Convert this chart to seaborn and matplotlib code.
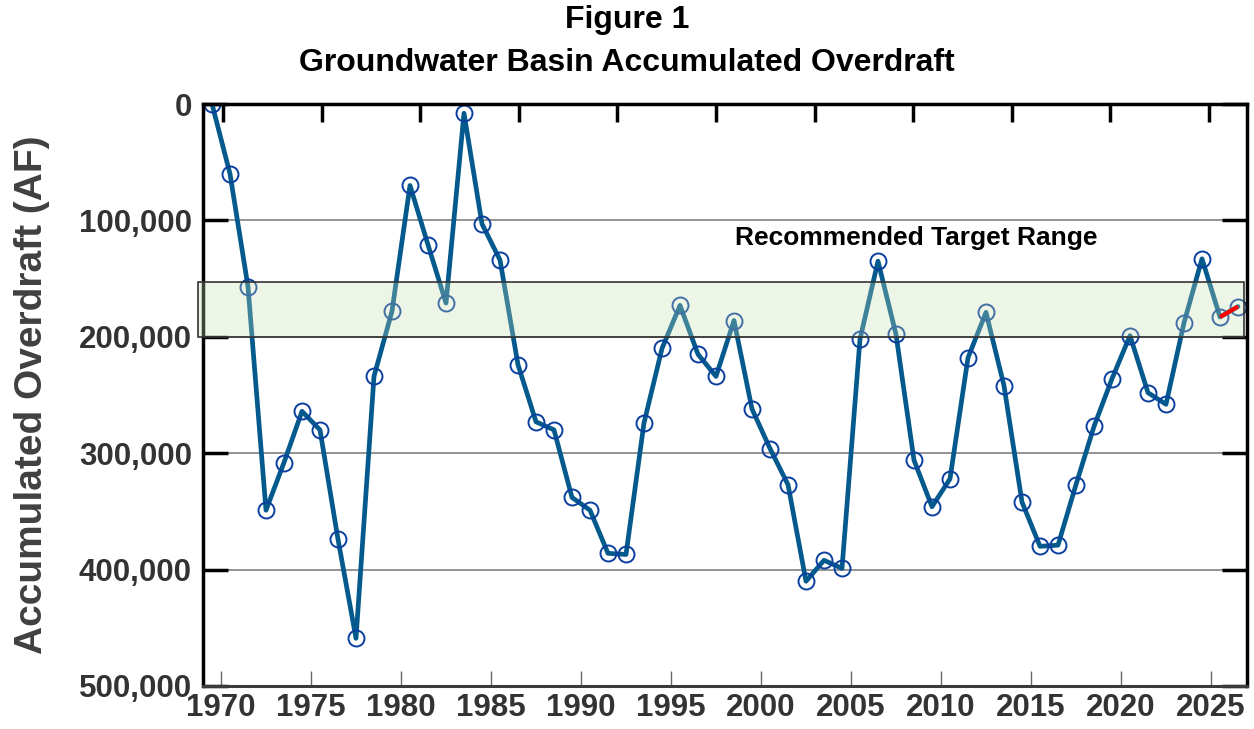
import numpy as np
import matplotlib
matplotlib.use("Agg")
import matplotlib.pyplot as plt
from matplotlib.colors import to_rgba
from matplotlib.ticker import FuncFormatter
import seaborn as sns

# water years (points plotted at mid-year)
years = list(range(1969, 2027))
overdraft = [
    0, 60000, 157000, 349000, 308000, 264000, 280000, 374000, 459000, 234000,
    178000, 70000, 121000, 171000, 8000, 103000, 134000, 224000, 273000, 280000,
    338000, 349000, 386000, 387000, 274000, 210000, 173000, 215000, 234000, 186000,
    262000, 296000, 327000, 410000, 392000, 399000, 202000, 135000, 198000, 306000,
    346000, 322000, 218000, 179000, 242000, 342000, 380000, 379000, 327000, 277000,
    236000, 199000, 248000, 258000, 188000, 133000, 183000, 174000,
]
projected_years = [2025, 2026]
target_low, target_high = 153000, 200000
year_ticks = list(range(1970, 2030, 5))
y_ticks = [0, 100000, 200000, 300000, 400000, 500000]

df = {"year": np.array(years) + 0.5, "af": overdraft}
proj_x = np.array(projected_years) + 0.5
proj_y = [overdraft[years.index(y)] for y in projected_years]

sns.set_style("white")
plt.rcParams["font.family"] = ["Liberation Sans", "DejaVu Sans"]
plt.rcParams["font.weight"] = "bold"

fig = plt.figure(figsize=(12.54, 7.29), dpi=100)
ax = fig.add_axes([203 / 1254, 43 / 729, 1044 / 1254, 582 / 729])

sns.lineplot(x=df["year"], y=df["af"], ax=ax, color="#045a8d", linewidth=3.4,
             marker="o", markersize=11.5, markerfacecolor="none",
             markeredgecolor="#0b3f9e", markeredgewidth=1.4, zorder=2)

# target band drawn over the line (semi transparent)
ax.axhspan(target_low, target_high, xmin=-0.005, xmax=0.997,
           facecolor=to_rgba("#c4e0b2", 0.3), edgecolor="#333333",
           linewidth=1.2, zorder=3, clip_on=False)

ax.plot(proj_x, proj_y, color="red", linewidth=3, zorder=4,
        solid_capstyle="butt")

ax.text(2008.6, 115000, "Recommended Target Range", ha="center", va="center",
        fontsize=19, fontweight="bold", color="black", zorder=5)

ax.set_xlim(1969, 2027)
ax.set_ylim(500000, 0)
ax.set_xticks(year_ticks)
ax.set_yticks(y_ticks)
ax.yaxis.set_major_formatter(FuncFormatter(lambda v, p: f"{int(v):,}"))
ax.grid(axis="y", color="#808080", linewidth=1.2, zorder=0)
ax.grid(axis="x", visible=False)
ax.set_axisbelow(True)

ax.tick_params(axis="y", direction="in", length=18, width=2.5, color="black",
               left=True, right=True, labelsize=22.5, labelcolor="#333333", pad=8)
ax.tick_params(axis="x", direction="in", length=11, width=1, color="#666666",
               bottom=True, top=False, labelsize=22.5, labelcolor="#333333", pad=5)
for lab in ax.get_xticklabels() + ax.get_yticklabels():
    lab.set_fontweight("bold")

for side in ["left", "top", "right"]:
    ax.spines[side].set_color("black")
    ax.spines[side].set_linewidth(2.5)
ax.spines["bottom"].set_color("#3a3a3a")
ax.spines["bottom"].set_linewidth(2.2)

# secondary top tick marks
ax_top = ax.twiny()
ax_top.set_xlim(-0.203, 10.385)
ax_top.set_xticks(range(11))
ax_top.tick_params(axis="x", direction="in", length=13, width=2.5, color="black",
                   top=True, bottom=False, labeltop=False, labelbottom=False)
for s in ax_top.spines.values():
    s.set_visible(False)

ax.set_xlabel("")
ax.set_ylabel("Accumulated Overdraft (AF)", fontsize=28, fontweight="bold",
              color="#404040")
ax.yaxis.set_label_coords(-0.1466, 0.5)

fig.text(0.5, 1 - 20 / 729, "Figure 1", ha="center", va="center",
         fontsize=23, fontweight="bold", color="black")
fig.text(0.5, 1 - 63 / 729, "Groundwater Basin Accumulated Overdraft",
         ha="center", va="center", fontsize=23, fontweight="bold", color="black")

fig.savefig("out.png", dpi=100)
